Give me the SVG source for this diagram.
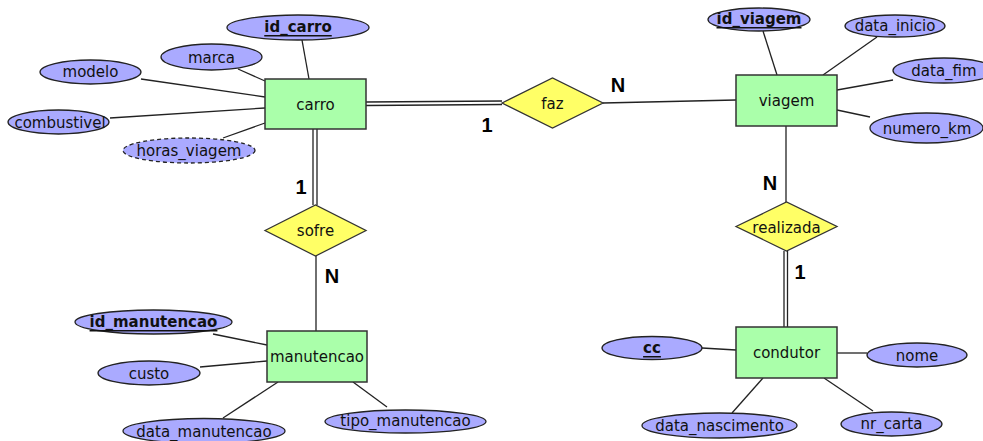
<svg xmlns="http://www.w3.org/2000/svg" width="983" height="441" viewBox="0 0 983 441">
<style>
.ent{fill:#aaffaa;stroke:#333;stroke-width:1.5}
.att{fill:#aaaaff;stroke:#222;stroke-width:1.3}
.rel{fill:#ffff66;stroke:#333;stroke-width:1.3}
.dash{stroke-dasharray:4 3}
text{font-family:"DejaVu Sans",Verdana,sans-serif;font-size:15px;fill:#111;text-anchor:middle;dominant-baseline:central}
.key{font-weight:bold;text-decoration:underline}
.card{font-family:"Liberation Sans",Arial,sans-serif;font-weight:bold;font-size:20px;fill:#000}
.ln{stroke:#222;stroke-width:1.3;fill:none}
</style>
<rect width="983" height="441" fill="#fff"/>
<g id="connectors">
<line class="ln" x1="302" y1="40" x2="309" y2="79"/>
<line class="ln" x1="238" y1="69" x2="265" y2="81"/>
<line class="ln" x1="141" y1="79" x2="265" y2="97"/>
<line class="ln" x1="110" y1="118" x2="265" y2="108"/>
<line class="ln" x1="223" y1="138" x2="265" y2="123"/>
<line class="ln" x1="366" y1="102" x2="502" y2="101"/>
<line class="ln" x1="366" y1="105.5" x2="502" y2="104.5"/>
<line class="ln" x1="603" y1="103" x2="736" y2="100"/>
<line class="ln" x1="313" y1="129" x2="313" y2="205"/>
<line class="ln" x1="317" y1="129" x2="317" y2="205"/>
<line class="ln" x1="316" y1="256" x2="316" y2="331"/>
<line class="ln" x1="763" y1="31" x2="777" y2="75"/>
<line class="ln" x1="877" y1="37" x2="823" y2="75"/>
<line class="ln" x1="893" y1="80" x2="837" y2="90"/>
<line class="ln" x1="870" y1="117" x2="837" y2="110"/>
<line class="ln" x1="786" y1="126" x2="786" y2="202"/>
<line class="ln" x1="784" y1="251" x2="784" y2="327"/>
<line class="ln" x1="787.5" y1="251" x2="787.5" y2="327"/>
<line class="ln" x1="213" y1="334" x2="267" y2="345"/>
<line class="ln" x1="200" y1="367" x2="267" y2="361"/>
<line class="ln" x1="223" y1="418" x2="278" y2="382"/>
<line class="ln" x1="353" y1="382" x2="387" y2="407"/>
<line class="ln" x1="702" y1="348" x2="736" y2="350"/>
<line class="ln" x1="837" y1="353" x2="867" y2="353"/>
<line class="ln" x1="732" y1="413" x2="763" y2="378"/>
<line class="ln" x1="824" y1="378" x2="873" y2="411"/>
</g>
<g id="card-labels">
<text class="card" x="487" y="125">1</text>
<text class="card" x="618" y="85">N</text>
<text class="card" x="301" y="187">1</text>
<text class="card" x="332" y="276">N</text>
<text class="card" x="770" y="183">N</text>
<text class="card" x="800" y="272">1</text>
</g>
<g id="carro"><rect class="ent" x="265" y="79" width="101" height="50"/><text x="315.5" y="105">carro</text></g>
<g id="id_carro"><ellipse class="att" cx="298" cy="27.5" rx="71" ry="12.5"/><text class="key" x="298" y="27">id_carro</text></g>
<g id="marca"><ellipse class="att" cx="211.5" cy="57" rx="50.5" ry="13"/><text x="211.5" y="58">marca</text></g>
<g id="modelo"><ellipse class="att" cx="90.5" cy="72" rx="50.5" ry="12"/><text x="90.5" y="72">modelo</text></g>
<g id="combustivel"><ellipse class="att" cx="58.5" cy="122" rx="50.5" ry="12"/><text x="60" y="123">combustivel</text></g>
<g id="horas_viagem"><ellipse class="att dash" cx="189" cy="150.5" rx="66" ry="12.5"/><text x="189" y="151">horas_viagem</text></g>
<g id="faz"><polygon class="rel" points="502,103 552.5,78 603,103 552.5,128"/><text x="552.5" y="104">faz</text></g>
<g id="viagem"><rect class="ent" x="736" y="75" width="101" height="51"/><text x="786.5" y="101">viagem</text></g>
<g id="id_viagem"><ellipse class="att" cx="759" cy="19.5" rx="51" ry="11.5"/><text class="key" x="759" y="19">id_viagem</text></g>
<g id="data_inicio"><ellipse class="att" cx="895" cy="26" rx="50" ry="11"/><text x="895" y="26">data_inicio</text></g>
<g id="data_fim"><ellipse class="att" cx="944" cy="70.5" rx="51" ry="12.5"/><text x="944" y="71">data_fim</text></g>
<g id="numero_km"><ellipse class="att" cx="926.5" cy="128" rx="56.5" ry="15"/><text x="927" y="129">numero_km</text></g>
<g id="sofre"><polygon class="rel" points="265,230.5 315.5,205 366,230.5 315.5,256"/><text x="315.5" y="231">sofre</text></g>
<g id="manutencao"><rect class="ent" x="267" y="331" width="100" height="51"/><text x="317" y="357">manutencao</text></g>
<g id="id_manutencao"><ellipse class="att" cx="153.5" cy="322" rx="78.5" ry="12"/><text class="key" x="153.5" y="322">id_manutencao</text></g>
<g id="custo"><ellipse class="att" cx="149" cy="373" rx="51" ry="12"/><text x="149" y="374">custo</text></g>
<g id="data_manutencao"><ellipse class="att" cx="204" cy="431" rx="81" ry="12.5"/><text x="204" y="432">data_manutencao</text></g>
<g id="tipo_manutencao"><ellipse class="att" cx="405.5" cy="421.5" rx="80.5" ry="11.5"/><text x="405.5" y="421">tipo_manutencao</text></g>
<g id="realizada"><polygon class="rel" points="736,226.5 786.5,202 837,226.5 786.5,251"/><text x="786.5" y="228">realizada</text></g>
<g id="condutor"><rect class="ent" x="736" y="327" width="101" height="51"/><text x="786.5" y="353">condutor</text></g>
<g id="cc"><ellipse class="att" cx="652" cy="348" rx="50" ry="11.5"/><text class="key" x="652" y="348">cc</text></g>
<g id="nome"><ellipse class="att" cx="917" cy="355" rx="50" ry="12"/><text x="917" y="356">nome</text></g>
<g id="data_nascimento"><ellipse class="att" cx="719.5" cy="425.5" rx="77.5" ry="12.5"/><text x="719.5" y="426">data_nascimento</text></g>
<g id="nr_carta"><ellipse class="att" cx="891.5" cy="424" rx="50.5" ry="12"/><text x="891.5" y="424">nr_carta</text></g>
</svg>
